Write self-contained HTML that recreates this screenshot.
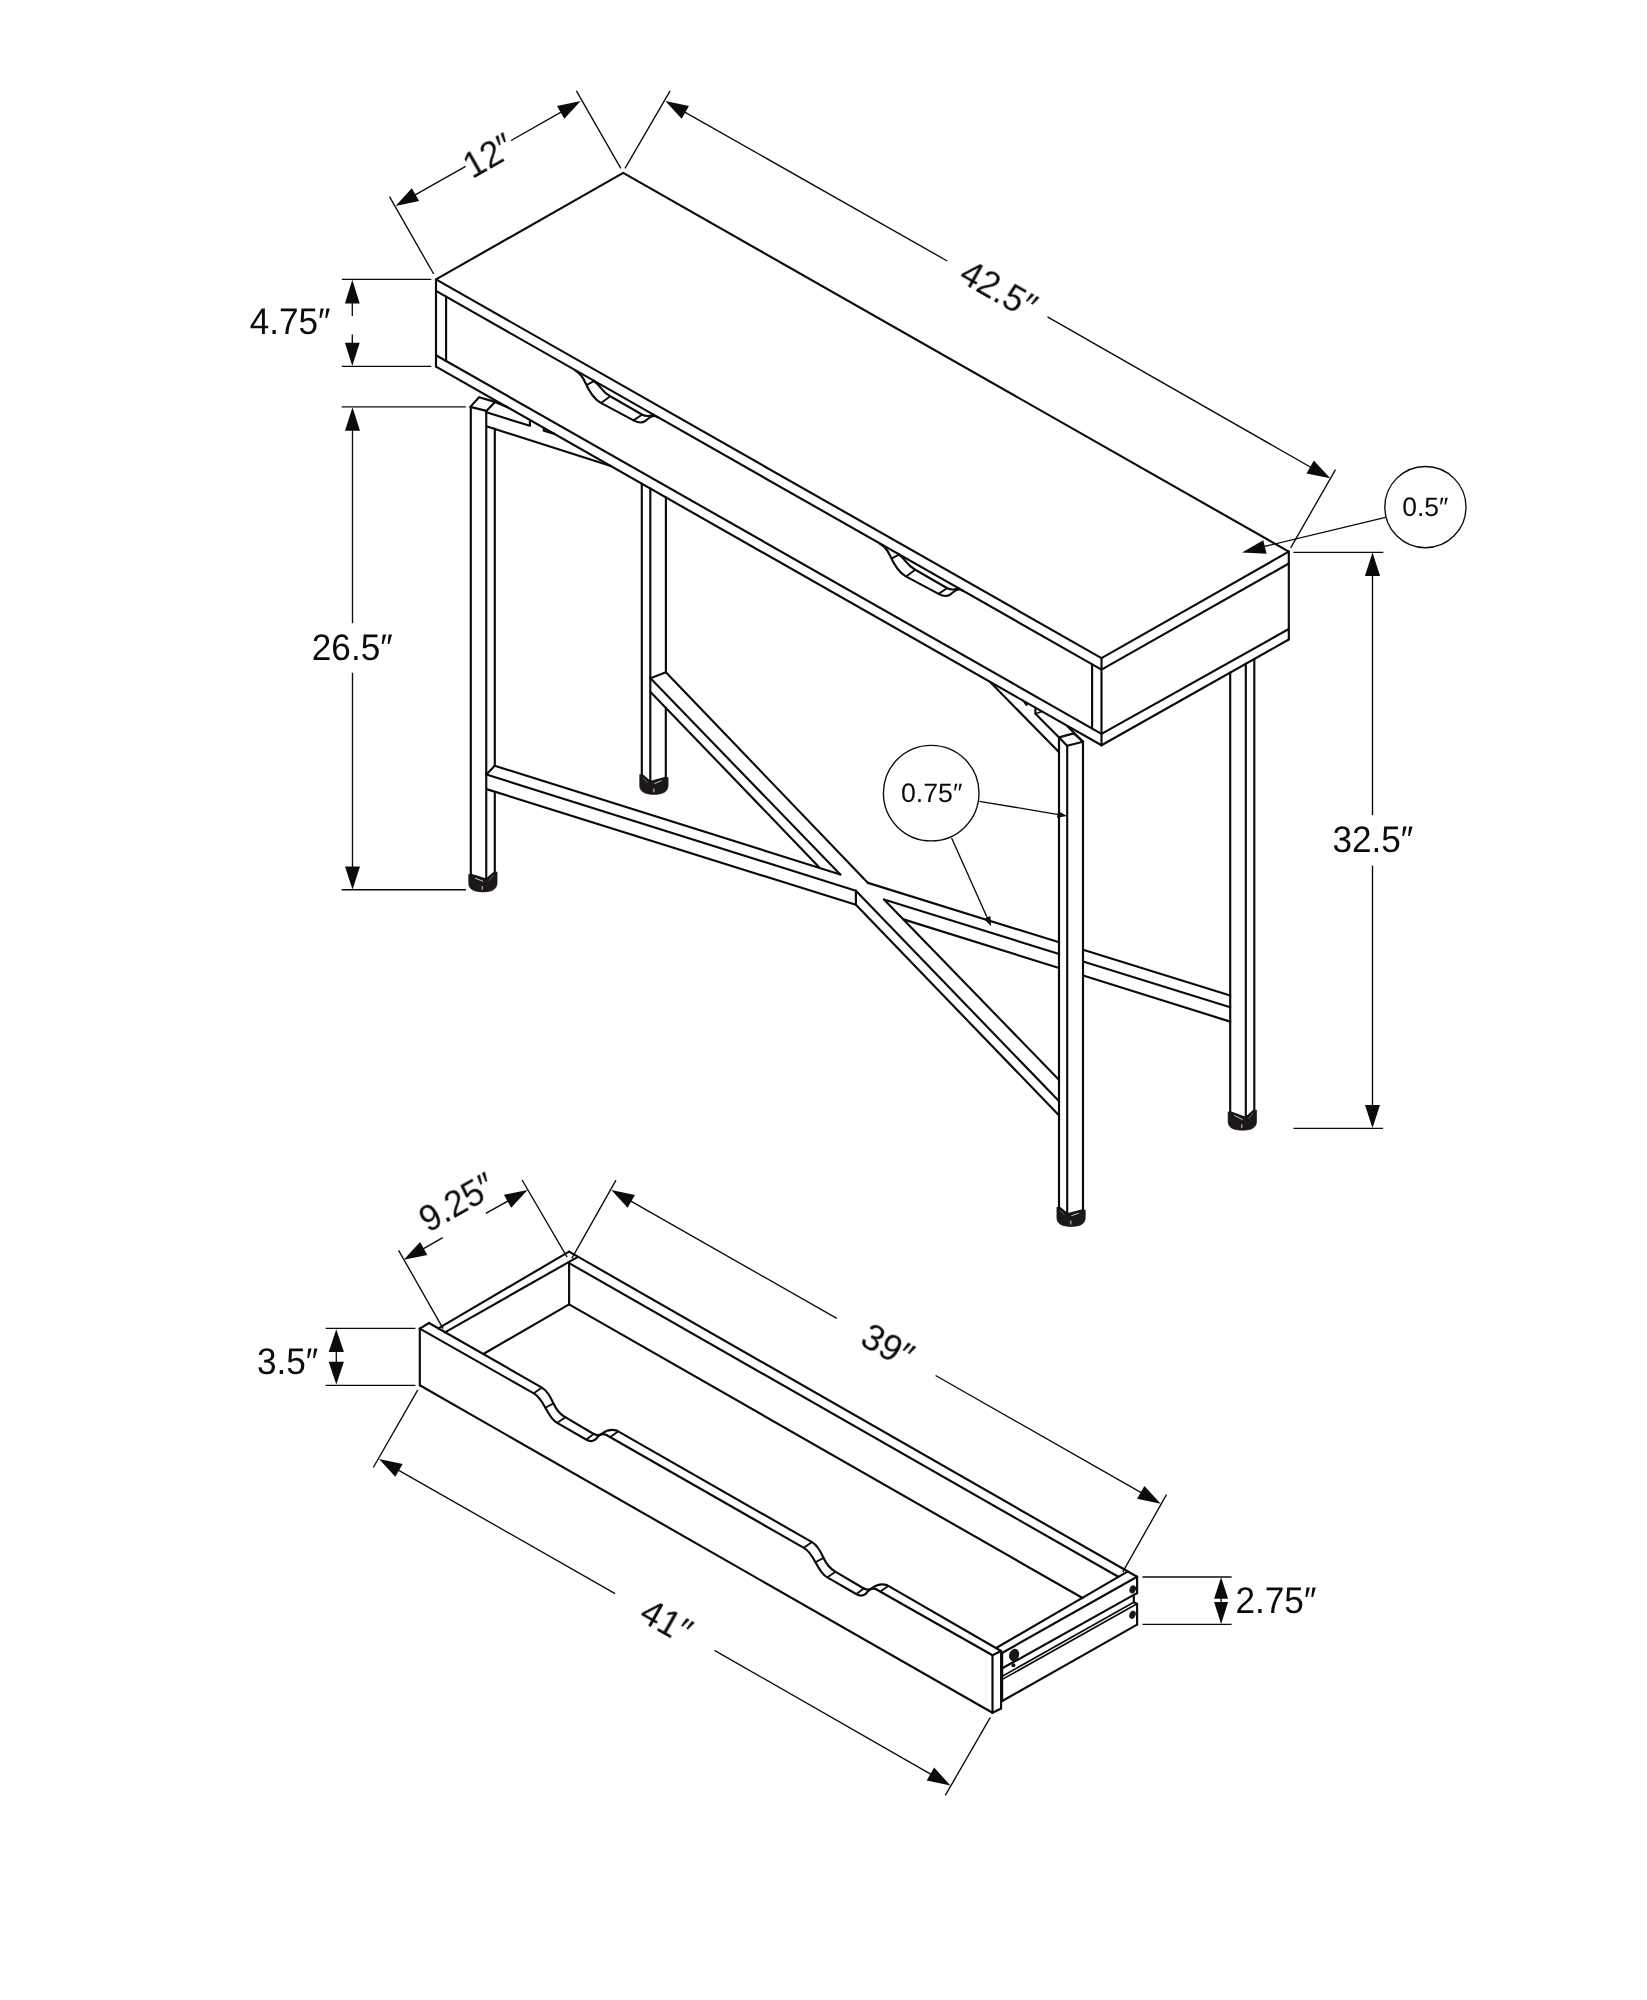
<!DOCTYPE html>
<html><head><meta charset="utf-8"><title>Console table dimensions</title>
<style>
html,body{margin:0;padding:0;background:#fff;}
body{width:1647px;height:2000px;overflow:hidden;}
svg{display:block;}
svg text{font-family:"Liberation Sans",sans-serif;text-rendering:geometricPrecision;}
</style></head><body>
<svg width="1647" height="2000" viewBox="0 0 1647 2000" fill="none" stroke="#0b0b0b">
<rect x="0" y="0" width="1647" height="2000" fill="#ffffff" stroke="none"/>
<path d="M436,279.4 L623.2,172.9 L1288.8,551.6 L1101.5,658.07 L436,279.4 Z" stroke-width="2.15" fill="none" stroke-linejoin="round" stroke-linecap="round"/>
<line x1="436" y1="355.2" x2="1101.5" y2="733.87" stroke-width="2.15" stroke-linecap="round"/>
<line x1="436" y1="366.6" x2="1101.5" y2="745.27" stroke-width="2.15" stroke-linecap="round"/>
<line x1="436" y1="279.4" x2="436" y2="366.6" stroke-width="2.15" stroke-linecap="round"/>
<line x1="446.1" y1="296.65" x2="446.1" y2="360.95" stroke-width="2.15" stroke-linecap="round"/>
<line x1="1101.5" y1="658.07" x2="1101.5" y2="745.27" stroke-width="2.15" stroke-linecap="round"/>
<line x1="1092.1" y1="664.22" x2="1092.1" y2="728.52" stroke-width="2.15" stroke-linecap="round"/>
<line x1="1288.8" y1="551.6" x2="1288.8" y2="639.5" stroke-width="2.15" stroke-linecap="round"/>
<line x1="1101.5" y1="669.57" x2="1288.8" y2="563.5" stroke-width="2.15" stroke-linecap="round"/>
<line x1="1101.5" y1="733.87" x2="1288.8" y2="629" stroke-width="2.15" stroke-linecap="round"/>
<line x1="1101.5" y1="745.27" x2="1288.8" y2="639.5" stroke-width="2.15" stroke-linecap="round"/>
<line x1="436" y1="290.9" x2="1101.5" y2="669.57" stroke-width="2.15" stroke-linecap="round"/>
<path d="M575,370.3 C580,373.2 582.5,376.5 585,382 C588.5,390 593,398.5 600.8,402.9 L633.6,420.4 C637.5,422.5 641.5,423.6 645,421.2 C648.5,418.6 650.5,415.9 654,416 C655.5,416.1 656.5,416.6 658,417.3" stroke-width="2.15" fill="none" stroke-linejoin="round" stroke-linecap="round" />
<path d="M593.3,380.5 C597,383 599,385.5 601,388.2 C603.5,391.6 606,394 610.3,396.3 L642.3,414.7 C645.5,416.5 649.5,416.3 653.5,414.7" stroke-width="2.15" fill="none" stroke-linejoin="round" stroke-linecap="round" />
<line x1="586.9" y1="384.8" x2="594.4" y2="380.9" stroke-width="1.9" stroke-linecap="round"/>
<line x1="601.4" y1="402.7" x2="609.9" y2="396.5" stroke-width="1.9" stroke-linecap="round"/>
<line x1="633.5" y1="420.4" x2="642" y2="414.8" stroke-width="1.9" stroke-linecap="round"/>
<path d="M880,543.8 C885,546.7 887.5,550 890,555.5 C893.5,563.5 898,572 905.8,576.4 L938.6,593.9 C942.5,596 946.5,597.1 950,594.7 C953.5,592.1 955.5,589.4 959,589.5 C960.5,589.6 961.5,590.1 963,590.8" stroke-width="2.15" fill="none" stroke-linejoin="round" stroke-linecap="round" />
<path d="M898.3,554 C902,556.5 904,559 906,561.7 C908.5,565.1 911,567.5 915.3,569.8 L947.3,588.2 C950.5,590 954.5,589.8 958.5,588.2" stroke-width="2.15" fill="none" stroke-linejoin="round" stroke-linecap="round" />
<line x1="891.9" y1="558.3" x2="899.4" y2="554.4" stroke-width="1.9" stroke-linecap="round"/>
<line x1="906.4" y1="576.2" x2="914.9" y2="570" stroke-width="1.9" stroke-linecap="round"/>
<line x1="938.5" y1="593.9" x2="947" y2="588.3" stroke-width="1.9" stroke-linecap="round"/>
<line x1="470.8" y1="406.9" x2="470.8" y2="874.8" stroke-width="2.15" stroke-linecap="round"/>
<line x1="486.25" y1="410.9" x2="486.25" y2="879.6" stroke-width="2.15" stroke-linecap="round"/>
<line x1="494.8" y1="428.8" x2="494.8" y2="765.7" stroke-width="2.15" stroke-linecap="round"/>
<line x1="494.8" y1="791.8" x2="494.8" y2="872.3" stroke-width="2.15" stroke-linecap="round"/>
<path d="M470.3,406.9 L479.1,397.2 L495,401.9 L486.4,410.9 Z" stroke-width="2.15" fill="none" stroke-linejoin="round" stroke-linecap="round"/>
<path d="M470.8,874.8 L486.25,879.6 L494.8,872.3" stroke-width="2.15" fill="none" stroke-linejoin="round" stroke-linecap="round"/>
<path d="M468.7,874.5 L468.7,883.6 C468.8,888.2 472.6,890.8 477.3,891.4 Q482.8,892.5 488.8,891.4 C493.3,890.8 497,888.2 497.1,883.1 L497.1,872 L494.8,872.3 L486.25,879.6 L470.8,874.8 Z" fill="#1c1718" stroke="#1c1718" stroke-width="0.6" stroke-linejoin="round"/>
<path d="M475.3,878.2 L482.75,881.2" stroke="#c9c9c9" stroke-width="1.0" fill="none" stroke-linecap="round"/>
<path d="M489.45,880.4 L493.2,875.3" stroke="#6a6868" stroke-width="0.9" fill="none" stroke-linecap="round"/>
<path d="M482.25,886 L482.25,889.8" stroke="#b8b8b8" stroke-width="1.2" fill="none"/>
<line x1="495" y1="401.9" x2="507.5" y2="407.2" stroke-width="2.15" stroke-linecap="round"/>
<path d="M486.4,412.3 L529.9,425.8 L529.9,420" stroke-width="2.15" fill="none" stroke-linejoin="round" stroke-linecap="round"/>
<path d="M543.8,428 L543.8,430.7 L554,433.6" stroke-width="2.15" fill="none" stroke-linejoin="round" stroke-linecap="round"/>
<line x1="486.4" y1="426.2" x2="610.1" y2="465.8" stroke-width="2.15" stroke-linecap="round"/>
<line x1="641.8" y1="483.7" x2="641.8" y2="774.8" stroke-width="2.15" stroke-linecap="round"/>
<line x1="650.3" y1="488.54" x2="650.3" y2="782.1" stroke-width="2.15" stroke-linecap="round"/>
<line x1="665.9" y1="497.41" x2="665.9" y2="672.3" stroke-width="2.15" stroke-linecap="round"/>
<line x1="665.8" y1="707.8" x2="665.8" y2="777.7" stroke-width="2.15" stroke-linecap="round"/>
<path d="M641.8,774.8 L650.3,782.1 L665.8,777.7" stroke-width="2.15" fill="none" stroke-linejoin="round" stroke-linecap="round"/>
<path d="M639.7,774.5 L639.7,786.1 C639.8,790.7 643.6,793.3 648.3,793.9 Q653.8,795 659.8,793.9 C664.3,793.3 668,790.7 668.1,785.6 L668.1,777.4 L665.8,777.7 L650.3,782.1 L641.8,774.8 Z" fill="#1c1718" stroke="#1c1718" stroke-width="0.6" stroke-linejoin="round"/>
<path d="M654.8,783.5 L661.3,780.7" stroke="#c9c9c9" stroke-width="1.0" fill="none" stroke-linecap="round"/>
<path d="M643.4,778.2 L647.3,782.7" stroke="#6a6868" stroke-width="0.9" fill="none" stroke-linecap="round"/>
<path d="M653.9,788.5 L653.9,792.3" stroke="#b8b8b8" stroke-width="1.2" fill="none"/>
<line x1="1059" y1="737.4" x2="1059" y2="1207.4" stroke-width="2.15" stroke-linecap="round"/>
<line x1="1067.2" y1="745.8" x2="1067.2" y2="1214.2" stroke-width="2.15" stroke-linecap="round"/>
<line x1="1083" y1="741.8" x2="1083" y2="1210.3" stroke-width="2.15" stroke-linecap="round"/>
<path d="M1059.1,737.4 L1073.6,733.4 L1083.1,741.8 L1067.1,745.8 Z" stroke-width="2.15" fill="none" stroke-linejoin="round" stroke-linecap="round"/>
<path d="M1059,1207.4 L1067.2,1214.2 L1083,1210.3" stroke-width="2.15" fill="none" stroke-linejoin="round" stroke-linecap="round"/>
<path d="M1056.9,1207.1 L1056.9,1218.2 C1057,1222.8 1060.8,1225.4 1065.5,1226 Q1071,1227.1 1077,1226 C1081.5,1225.4 1085.2,1222.8 1085.3,1217.7 L1085.3,1210 L1083,1210.3 L1067.2,1214.2 L1059,1207.4 Z" fill="#1c1718" stroke="#1c1718" stroke-width="0.6" stroke-linejoin="round"/>
<path d="M1071.7,1215.6 L1078.5,1213.3" stroke="#c9c9c9" stroke-width="1.0" fill="none" stroke-linecap="round"/>
<path d="M1060.6,1210.8 L1064.2,1214.8" stroke="#6a6868" stroke-width="0.9" fill="none" stroke-linecap="round"/>
<path d="M1070.8,1220.6 L1070.8,1224.4" stroke="#b8b8b8" stroke-width="1.2" fill="none"/>
<line x1="990.9" y1="682.8" x2="1059.1" y2="752.3" stroke-width="2.15" stroke-linecap="round"/>
<path d="M1035.4,707.9 L1035.4,713.7 L1059.1,737.4" stroke-width="2.15" fill="none" stroke-linejoin="round" stroke-linecap="round"/>
<line x1="1035.4" y1="713.7" x2="1041.9" y2="711.6" stroke-width="1.6" stroke-linecap="round"/>
<line x1="1067.4" y1="726.3" x2="1083.1" y2="741.8" stroke-width="2.15" stroke-linecap="round"/>
<path d="M1022.6,700.5 L1028.4,703.8 L1026.3,706 Z" fill="#0b0b0b" stroke="#0b0b0b" stroke-width="0.8"/>
<line x1="1230.2" y1="672.59" x2="1230.2" y2="1112.2" stroke-width="2.15" stroke-linecap="round"/>
<line x1="1245.8" y1="663.78" x2="1245.8" y2="1117.9" stroke-width="2.15" stroke-linecap="round"/>
<line x1="1254.3" y1="658.98" x2="1254.3" y2="1110.4" stroke-width="2.15" stroke-linecap="round"/>
<path d="M1230.2,1112.2 L1245.8,1117.9 L1254.3,1110.4" stroke-width="2.15" fill="none" stroke-linejoin="round" stroke-linecap="round"/>
<path d="M1228.1,1111.9 L1228.1,1121.9 C1228.2,1126.5 1232,1129.1 1236.7,1129.7 Q1242.25,1130.8 1248.3,1129.7 C1252.8,1129.1 1256.5,1126.5 1256.6,1121.4 L1256.6,1110.1 L1254.3,1110.4 L1245.8,1117.9 L1230.2,1112.2 Z" fill="#1c1718" stroke="#1c1718" stroke-width="0.6" stroke-linejoin="round"/>
<path d="M1234.7,1115.6 L1242.3,1119.5" stroke="#c9c9c9" stroke-width="1.0" fill="none" stroke-linecap="round"/>
<path d="M1249,1118.7 L1252.7,1113.4" stroke="#6a6868" stroke-width="0.9" fill="none" stroke-linecap="round"/>
<path d="M1241.8,1124.3 L1241.8,1128.1" stroke="#b8b8b8" stroke-width="1.2" fill="none"/>
<line x1="494.7" y1="765.7" x2="840.3" y2="874.5" stroke-width="2.15" stroke-linecap="round"/>
<line x1="486.4" y1="774.5" x2="855.9" y2="890.7" stroke-width="2.15" stroke-linecap="round"/>
<line x1="486.4" y1="789.1" x2="855.9" y2="904.8" stroke-width="2.15" stroke-linecap="round"/>
<line x1="486.4" y1="774.5" x2="494.7" y2="765.7" stroke-width="2.15" stroke-linecap="round"/>
<line x1="855.9" y1="890.7" x2="855.9" y2="904.8" stroke-width="2.15" stroke-linecap="round"/>
<line x1="868" y1="882.9" x2="1059.1" y2="942.31" stroke-width="2.15" stroke-linecap="round"/>
<line x1="1083.1" y1="949.77" x2="1230.2" y2="995.5" stroke-width="2.15" stroke-linecap="round"/>
<line x1="884" y1="899.5" x2="1059.1" y2="954.02" stroke-width="2.15" stroke-linecap="round"/>
<line x1="1083.1" y1="961.5" x2="1230.2" y2="1007.3" stroke-width="2.15" stroke-linecap="round"/>
<line x1="903.5" y1="919.4" x2="1059.1" y2="968.08" stroke-width="2.15" stroke-linecap="round"/>
<line x1="1083.1" y1="975.58" x2="1230.2" y2="1021.6" stroke-width="2.15" stroke-linecap="round"/>
<line x1="665.9" y1="672.3" x2="868" y2="882.9" stroke-width="2.15" stroke-linecap="round"/>
<line x1="650.5" y1="678.3" x2="840.3" y2="874.5" stroke-width="2.15" stroke-linecap="round"/>
<line x1="650.5" y1="691.9" x2="818.9" y2="866.9" stroke-width="2.15" stroke-linecap="round"/>
<line x1="650.5" y1="678.3" x2="665.9" y2="672.3" stroke-width="2.15" stroke-linecap="round"/>
<line x1="884" y1="899.5" x2="1059.1" y2="1080" stroke-width="2.15" stroke-linecap="round"/>
<line x1="855.9" y1="890.7" x2="1059.1" y2="1101.3" stroke-width="2.15" stroke-linecap="round"/>
<line x1="855.9" y1="904.8" x2="1059.1" y2="1115.5" stroke-width="2.15" stroke-linecap="round"/>
<path d="M419.8,1328.6 L533.8,1393.4 C538,1395.8 541.5,1400.5 545.5,1407.9 C549,1414.5 552,1420 557.2,1422.9 L585.6,1439.3 C590,1441.9 594.5,1441.5 597.5,1437.2 C599.5,1434.4 602,1433.2 606,1434.8 L803.9,1547.9 C808.1,1550.3 811.6,1555 815.6,1562.4 C819.1,1569 822.1,1574.5 827.3,1577.4 L855.7,1593.8 C860.1,1596.4 864.6,1596 867.6,1591.7 C869.6,1588.9 872.1,1587.7 876.1,1589.3 L992.5,1655.2" stroke-width="2.15" fill="none" stroke-linejoin="round" stroke-linecap="round" />
<path d="M429.0,1323.0 L541.9,1387.6 C546,1390 550,1395.5 553.5,1403.5 C556.5,1410 560,1414.3 565.2,1417.1 L592.9,1433.5 C596,1435.4 599,1435.7 602,1433.6 C606,1430.6 610,1428.7 616.9,1430.6 L812,1542.1 C816.1,1544.5 820.1,1550 823.6,1558 C826.6,1564.5 830.1,1568.8 835.3,1571.6 L863,1588 C866.1,1589.9 869.1,1590.2 872.1,1588.1 C876.1,1585.1 880.1,1583.2 887,1585.1 L1001.1,1651.0" stroke-width="2.15" fill="none" stroke-linejoin="round" stroke-linecap="round" />
<line x1="533.8" y1="1393.2" x2="541.9" y2="1387.6" stroke-width="1.8" stroke-linecap="round"/>
<line x1="545.4" y1="1407.7" x2="553.4" y2="1403.4" stroke-width="1.8" stroke-linecap="round"/>
<line x1="557.3" y1="1422.7" x2="565.5" y2="1417.3" stroke-width="1.8" stroke-linecap="round"/>
<line x1="586.3" y1="1439.4" x2="593.7" y2="1434" stroke-width="1.8" stroke-linecap="round"/>
<line x1="610.3" y1="1436.9" x2="617.4" y2="1431.9" stroke-width="1.8" stroke-linecap="round"/>
<line x1="803.9" y1="1547.7" x2="812" y2="1542.1" stroke-width="1.8" stroke-linecap="round"/>
<line x1="815.5" y1="1562.2" x2="823.5" y2="1557.9" stroke-width="1.8" stroke-linecap="round"/>
<line x1="827.4" y1="1577.2" x2="835.6" y2="1571.8" stroke-width="1.8" stroke-linecap="round"/>
<line x1="856.4" y1="1593.9" x2="863.8" y2="1588.5" stroke-width="1.8" stroke-linecap="round"/>
<line x1="880.4" y1="1591.4" x2="887.5" y2="1586.4" stroke-width="1.8" stroke-linecap="round"/>
<line x1="419.8" y1="1328.6" x2="419.8" y2="1385.3" stroke-width="2.15" stroke-linecap="round"/>
<line x1="419.8" y1="1328.6" x2="429" y2="1323" stroke-width="2.15" stroke-linecap="round"/>
<line x1="419.8" y1="1385.3" x2="992.5" y2="1712.8" stroke-width="2.15" stroke-linecap="round"/>
<line x1="992.5" y1="1655.2" x2="992.5" y2="1712.8" stroke-width="2.15" stroke-linecap="round"/>
<line x1="992.5" y1="1655.2" x2="1001.1" y2="1651" stroke-width="2.15" stroke-linecap="round"/>
<line x1="1001.1" y1="1651" x2="1001.1" y2="1708.5" stroke-width="2.15" stroke-linecap="round"/>
<line x1="992.5" y1="1712.8" x2="1001.1" y2="1708.5" stroke-width="2.15" stroke-linecap="round"/>
<line x1="438.3" y1="1328.4" x2="569.1" y2="1251.6" stroke-width="2.15" stroke-linecap="round"/>
<line x1="444.9" y1="1332.4" x2="577" y2="1257.4" stroke-width="2.15" stroke-linecap="round"/>
<line x1="569.1" y1="1251.6" x2="1137.1" y2="1576.8" stroke-width="2.15" stroke-linecap="round"/>
<line x1="569.1" y1="1263.1" x2="1118.3" y2="1576.8" stroke-width="2.15" stroke-linecap="round"/>
<line x1="569.1" y1="1263.1" x2="569.1" y2="1304.4" stroke-width="2.15" stroke-linecap="round"/>
<line x1="569.1" y1="1304.4" x2="483.8" y2="1353.7" stroke-width="2.15" stroke-linecap="round"/>
<line x1="569.1" y1="1304.4" x2="1082.6" y2="1598" stroke-width="2.15" stroke-linecap="round"/>
<line x1="997" y1="1647.5" x2="1127" y2="1571.9" stroke-width="2.15" stroke-linecap="round"/>
<line x1="1002" y1="1653" x2="1137.1" y2="1576.8" stroke-width="2.15" stroke-linecap="round"/>
<line x1="1002.3" y1="1668.3" x2="1133.8" y2="1594.9" stroke-width="2.15" stroke-linecap="round"/>
<line x1="1002.3" y1="1676.2" x2="1133.8" y2="1602.3" stroke-width="1.6" stroke-linecap="round"/>
<line x1="1002.3" y1="1679.4" x2="1137.1" y2="1603.8" stroke-width="1.6" stroke-linecap="round"/>
<line x1="1002.3" y1="1701" x2="1137.1" y2="1624.6" stroke-width="2.15" stroke-linecap="round"/>
<path d="M1137.1,1576.8 L1137.1,1593.2 L1133.8,1594.9 L1133.8,1602.3 L1137.1,1603.8 L1137.1,1624.6" stroke-width="2.15" fill="none" stroke-linejoin="round" stroke-linecap="round"/>
<line x1="1002.6" y1="1652.5" x2="1002.6" y2="1701" stroke-width="1.2" stroke-linecap="round"/>
<ellipse cx="1014.1" cy="1655.0" rx="4.9" ry="6.3" transform="rotate(20 1014.1 1655)" fill="#1a1616" stroke="none"/>
<circle cx="1013.4" cy="1665.3" r="2" fill="#1a1616" stroke="none"/>
<ellipse cx="1132.7" cy="1589.4" rx="3.1" ry="4.2" transform="rotate(20 1132.7 1589.4)" fill="#1a1616" stroke="none"/>
<ellipse cx="1132.5" cy="1614.8" rx="3.1" ry="4.2" transform="rotate(20 1132.5 1614.8)" fill="#1a1616" stroke="none"/>
<line x1="389.5" y1="196.6" x2="433.7" y2="274" stroke-width="1.35" stroke-linecap="butt"/>
<line x1="576.4" y1="90.9" x2="620.8" y2="168.3" stroke-width="1.35" stroke-linecap="butt"/>
<line x1="410.32" y1="197.6" x2="465.6" y2="166.3" stroke-width="1.35" stroke-linecap="butt"/>
<line x1="511.1" y1="140.5" x2="565.88" y2="109.4" stroke-width="1.35" stroke-linecap="butt"/>
<path d="M395.5,206 L411.86,188.22 L419.16,201.09 Z" fill="#0b0b0b" stroke="none"/>
<path d="M580.7,101 L564.34,118.78 L557.04,105.91 Z" fill="#0b0b0b" stroke="none"/>
<line x1="670.1" y1="90.9" x2="625" y2="168.3" stroke-width="1.35" stroke-linecap="butt"/>
<line x1="1335.5" y1="469.6" x2="1290.7" y2="547.8" stroke-width="1.35" stroke-linecap="butt"/>
<line x1="678.6" y1="108.55" x2="947.3" y2="261" stroke-width="1.35" stroke-linecap="butt"/>
<line x1="1047.5" y1="316.9" x2="1316.9" y2="470.75" stroke-width="1.35" stroke-linecap="butt"/>
<path d="M665.3,101 L688.96,105.92 L681.65,118.79 Z" fill="#0b0b0b" stroke="none"/>
<path d="M1330.2,478.3 L1306.54,473.38 L1313.85,460.51 Z" fill="#0b0b0b" stroke="none"/>
<line x1="341.8" y1="279.3" x2="431.3" y2="279.3" stroke-width="1.35" stroke-linecap="butt"/>
<line x1="341.8" y1="366.3" x2="431.3" y2="366.3" stroke-width="1.35" stroke-linecap="butt"/>
<line x1="352.3" y1="300" x2="352.3" y2="315.9" stroke-width="1.35" stroke-linecap="butt"/>
<line x1="352.3" y1="334.4" x2="352.3" y2="345" stroke-width="1.35" stroke-linecap="butt"/>
<path d="M352.3,279.8 L359.7,303.4 L344.9,303.4 Z" fill="#0b0b0b" stroke="none"/>
<path d="M352.3,365.9 L344.9,342.7 L359.7,342.7 Z" fill="#0b0b0b" stroke="none"/>
<line x1="341.7" y1="406.8" x2="465.7" y2="406.8" stroke-width="1.35" stroke-linecap="butt"/>
<line x1="341.7" y1="889.7" x2="465.9" y2="889.7" stroke-width="1.35" stroke-linecap="butt"/>
<line x1="352.5" y1="428" x2="352.5" y2="623.2" stroke-width="1.35" stroke-linecap="butt"/>
<line x1="352.5" y1="672.7" x2="352.5" y2="868" stroke-width="1.35" stroke-linecap="butt"/>
<path d="M352.5,407.2 L360,430.8 L345,430.8 Z" fill="#0b0b0b" stroke="none"/>
<path d="M352.5,889.4 L345,866.4 L360,866.4 Z" fill="#0b0b0b" stroke="none"/>
<line x1="1293.4" y1="552.3" x2="1383.3" y2="552.3" stroke-width="1.35" stroke-linecap="butt"/>
<line x1="1293.5" y1="1128.4" x2="1383.1" y2="1128.4" stroke-width="1.35" stroke-linecap="butt"/>
<line x1="1372.5" y1="574" x2="1372.5" y2="815.2" stroke-width="1.35" stroke-linecap="butt"/>
<line x1="1372.5" y1="865.6" x2="1372.5" y2="1106" stroke-width="1.35" stroke-linecap="butt"/>
<path d="M1372.5,552.6 L1380.1,575.9 L1364.9,575.9 Z" fill="#0b0b0b" stroke="none"/>
<path d="M1372.5,1128 L1365,1105 L1380,1105 Z" fill="#0b0b0b" stroke="none"/>
<circle cx="1425.4" cy="507.1" r="40.6" fill="none" stroke-width="1.35"/>
<line x1="1385.6" y1="517.4" x2="1262" y2="547" stroke-width="1.35" stroke-linecap="butt"/>
<path d="M1242.1,552.6 L1263.26,540.2 L1266.59,553.8 Z" fill="#0b0b0b" stroke="none"/>
<circle cx="931.2" cy="793.1" r="47.8" fill="none" stroke-width="1.35"/>
<line x1="979.4" y1="801.3" x2="1060" y2="814.8" stroke-width="1.35" stroke-linecap="butt"/>
<path d="M1067,816 L1056.95,817.86 L1058.11,810.96 Z" fill="#0b0b0b" stroke="none"/>
<line x1="951.6" y1="838" x2="988.5" y2="920.5" stroke-width="1.35" stroke-linecap="butt"/>
<path d="M991.1,926.3 L983.99,918.97 L990.37,916.11 Z" fill="#0b0b0b" stroke="none"/>
<line x1="398.6" y1="1250.3" x2="443.1" y2="1328.6" stroke-width="1.35" stroke-linecap="butt"/>
<line x1="522.1" y1="1180" x2="567.1" y2="1257.1" stroke-width="1.35" stroke-linecap="butt"/>
<line x1="416.09" y1="1252.82" x2="442.8" y2="1237.7" stroke-width="1.35" stroke-linecap="butt"/>
<line x1="485.8" y1="1213.4" x2="515.21" y2="1196.98" stroke-width="1.35" stroke-linecap="butt"/>
<path d="M403.7,1259.8 L420.11,1242.06 L427.37,1254.96 Z" fill="#0b0b0b" stroke="none"/>
<path d="M527.6,1190 L511.19,1207.74 L503.93,1194.84 Z" fill="#0b0b0b" stroke="none"/>
<line x1="616" y1="1180.2" x2="571.8" y2="1258.3" stroke-width="1.35" stroke-linecap="butt"/>
<line x1="1166.5" y1="1494.6" x2="1122.8" y2="1571.9" stroke-width="1.35" stroke-linecap="butt"/>
<line x1="627.78" y1="1199.41" x2="836.8" y2="1318.4" stroke-width="1.35" stroke-linecap="butt"/>
<line x1="935.6" y1="1375.5" x2="1144.22" y2="1494.39" stroke-width="1.35" stroke-linecap="butt"/>
<path d="M611.3,1190 L634.94,1194.98 L627.6,1207.83 Z" fill="#0b0b0b" stroke="none"/>
<path d="M1160.7,1503.8 L1137.06,1498.82 L1144.4,1485.97 Z" fill="#0b0b0b" stroke="none"/>
<line x1="325.6" y1="1328.4" x2="415.4" y2="1328.4" stroke-width="1.35" stroke-linecap="butt"/>
<line x1="325.6" y1="1385.3" x2="415.4" y2="1385.3" stroke-width="1.35" stroke-linecap="butt"/>
<line x1="336.3" y1="1350" x2="336.3" y2="1363" stroke-width="1.35" stroke-linecap="butt"/>
<path d="M336.3,1329.2 L343.9,1352 L328.7,1352 Z" fill="#0b0b0b" stroke="none"/>
<path d="M336.3,1384.6 L328.7,1361.8 L343.9,1361.8 Z" fill="#0b0b0b" stroke="none"/>
<line x1="417.8" y1="1389.8" x2="373.3" y2="1467.5" stroke-width="1.35" stroke-linecap="butt"/>
<line x1="990.3" y1="1717.4" x2="945.3" y2="1795.4" stroke-width="1.35" stroke-linecap="butt"/>
<line x1="396.14" y1="1468.79" x2="615.1" y2="1593.6" stroke-width="1.35" stroke-linecap="butt"/>
<line x1="714.5" y1="1650.3" x2="933.26" y2="1775.61" stroke-width="1.35" stroke-linecap="butt"/>
<path d="M379,1459 L402.64,1463.98 L395.3,1476.83 Z" fill="#0b0b0b" stroke="none"/>
<path d="M950.4,1785.4 L926.76,1780.42 L934.1,1767.57 Z" fill="#0b0b0b" stroke="none"/>
<line x1="1142.5" y1="1577" x2="1231.6" y2="1577" stroke-width="1.35" stroke-linecap="butt"/>
<line x1="1142.5" y1="1624.3" x2="1231.6" y2="1624.3" stroke-width="1.35" stroke-linecap="butt"/>
<path d="M1221.1,1577.3 L1228.1,1598.8 L1214.1,1598.8 Z" fill="#0b0b0b" stroke="none"/>
<path d="M1221.1,1624 L1214.1,1602 L1228.1,1602 Z" fill="#0b0b0b" stroke="none"/>
<line x1="1221.1" y1="1597" x2="1221.1" y2="1603" stroke-width="1.35" stroke-linecap="butt"/>
<g opacity="0.999">
<text transform="translate(290.12,334.1) scale(0.95,1)" font-size="37" text-anchor="middle" fill="#0b0b0b" stroke="none" >4.75″</text>
<text transform="translate(352.24,659.7) scale(0.95,1)" font-size="37" text-anchor="middle" fill="#0b0b0b" stroke="none" >26.5″</text>
<text transform="translate(1372.86,852.3) scale(0.95,1)" font-size="37" text-anchor="middle" fill="#0b0b0b" stroke="none" >32.5″</text>
<text transform="translate(287.56,1373.5) scale(0.95,1)" font-size="37" text-anchor="middle" fill="#0b0b0b" stroke="none" >3.5″</text>
<text transform="translate(1275.94,1612.5) scale(0.95,1)" font-size="37" text-anchor="middle" fill="#0b0b0b" stroke="none" >2.75″</text>
<text transform="translate(1425.23,515.7) scale(0.99,1)" font-size="26.7" text-anchor="middle" fill="#0b0b0b" stroke="none" >0.5″</text>
<text transform="translate(931.63,801.6)" font-size="26.7" text-anchor="middle" fill="#0b0b0b" stroke="none" >0.75″</text>
<text transform="translate(494.43,166.6) rotate(-29.7) scale(0.94,1)" font-size="37" text-anchor="middle" fill="#0b0b0b" stroke="none" >12″</text>
<text transform="translate(992.43,300.36) rotate(29.5) scale(0.95,1)" font-size="37" text-anchor="middle" fill="#0b0b0b" stroke="none" >42.5″</text>
<text transform="translate(463.07,1213.24) rotate(-29.6) scale(0.945,1)" font-size="37" text-anchor="middle" fill="#0b0b0b" stroke="none" >9.25″</text>
<text transform="translate(881.59,1356.83) rotate(29.3) scale(0.97,1)" font-size="37" text-anchor="middle" fill="#0b0b0b" stroke="none" >39″</text>
<text transform="translate(660.23,1632.36) rotate(29.6) scale(0.96,1)" font-size="37" text-anchor="middle" fill="#0b0b0b" stroke="none" >41″</text>
</g>
</svg>
</body></html>
